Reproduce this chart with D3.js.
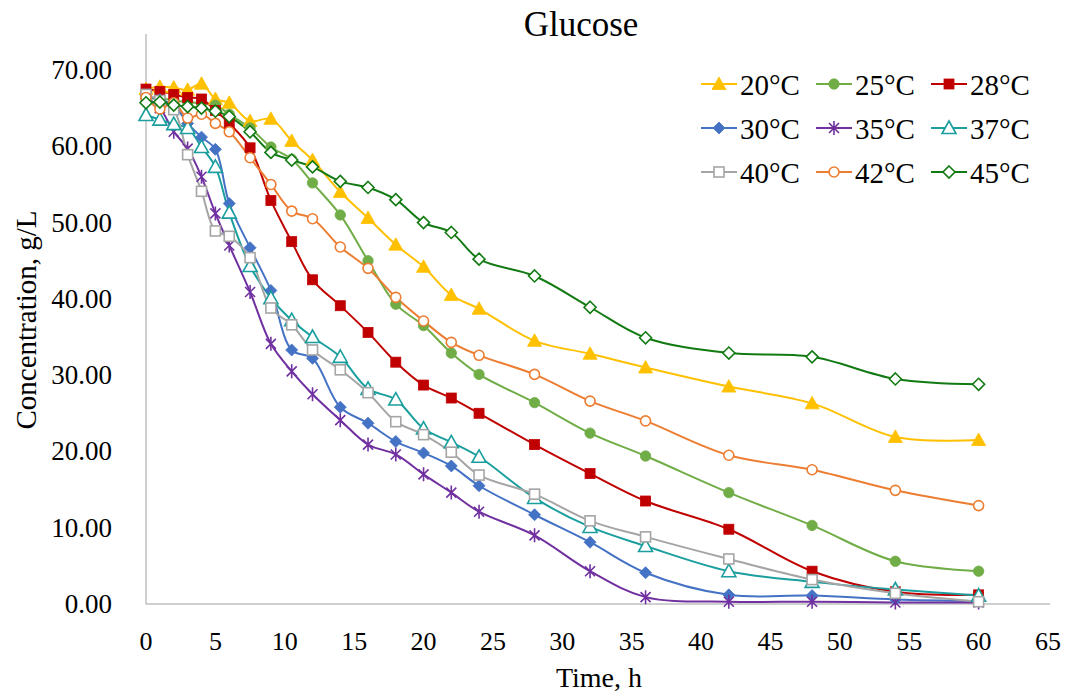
<!DOCTYPE html>
<html>
<head>
<meta charset="utf-8">
<script src="https://cdn.jsdelivr.net/npm/d3@7"></script>
<style>
  body { margin: 0; background: #fff; }
</style>
</head>
<body>
<div id="chart"></div>
<script>
// ========= DATA =========
const TIMES = [0,1,2,3,4,5,6,7.5,9,10.5,12,14,16,18,20,22,24,28,32,36,42,48,54,60];

const T20 = [67.5,67.8,67.7,67.4,68.2,66.2,65.7,63.3,63.6,60.7,58.2,54.0,50.6,47.1,44.2,40.5,38.7,34.5,32.8,31.0,28.5,26.3,21.9,21.5];
const T25 = [66.2,66.3,66.0,65.8,65.6,65.4,64.2,62.4,59.9,58.3,55.2,51.0,45.0,39.3,36.5,32.9,30.1,26.4,22.4,19.4,14.6,10.3,5.6,4.3];
const T28 = [67.5,67.2,66.8,66.4,66.2,64.7,63.0,59.8,52.9,47.5,42.5,39.1,35.6,31.7,28.7,27.0,25.0,20.9,17.1,13.5,9.8,4.3,1.6,1.2];
const T30 = [66.6,66.1,65.4,63.0,61.2,59.6,52.5,46.7,41.1,33.3,32.2,25.8,23.7,21.3,19.8,18.1,15.5,11.7,8.1,4.1,1.2,1.1,0.6,0.4];
const T35 = [66.4,65.0,61.9,59.7,56.0,51.2,47.0,40.9,34.1,30.5,27.5,24.1,20.9,19.6,17.0,14.6,12.1,9.0,4.3,0.9,0.3,0.3,0.2,0.2];
const T37 = [64.1,63.5,62.9,62.4,59.9,57.3,51.3,44.3,40.1,37.2,35.0,32.4,28.2,26.8,23.0,21.2,19.3,13.9,10.1,7.6,4.3,2.9,1.9,1.1];
const T40 = [66.8,66.0,64.8,58.9,54.1,48.9,48.2,45.4,38.8,36.6,33.3,30.7,27.7,23.9,22.2,19.9,16.9,14.4,10.9,8.8,5.9,3.2,1.4,0.3];
const T42 = [66.4,64.9,65.7,63.7,64.2,63.0,61.9,58.5,55.0,51.5,50.5,46.8,44.0,40.2,37.1,34.3,32.6,30.1,26.6,24.0,19.5,17.6,14.9,12.9];
const T45 = [65.7,65.8,65.4,65.2,65.0,64.6,63.9,61.9,59.2,58.2,57.3,55.4,54.6,53.0,50.0,48.7,45.2,43.0,38.9,34.9,32.9,32.4,29.5,28.8];

const SERIES_NAMES = ["20°C","25°C","28°C","30°C","35°C","37°C","40°C","42°C","45°C"];
const SERIES_VALUES = [T20,T25,T28,T30,T35,T37,T40,T42,T45];
const COLORS = ["#FFC000","#70AD47","#C00000","#4472C4","#7030A0","#1A9E9E","#A5A5A5","#ED7D31","#127A12"];
const MARKERS = ["triFill","circleFill","squareFill","diamondFill","star","triOpen","squareOpen","circleOpen","diamondOpen"];

const X_TICKS = d3.range(0, 66, 5);
const Y_TICKS = d3.range(0, 71, 10);

const FONT = '"Liberation Serif", "Times New Roman", serif';

// ========= LAYOUT =========
const W = 1071, H = 697;
const x = d3.scaleLinear().domain([0, 65]).range([146, 1048]);
const y = d3.scaleLinear().domain([0, 70]).range([604, 70]);

const svg = d3.select("#chart").append("svg").attr("width", W).attr("height", H);

function txt(sel) {
  return sel.append("text").style("font-family", FONT).attr("fill", "#000");
}

// axes lines
svg.append("line").attr("x1", 146).attr("x2", 146).attr("y1", 34).attr("y2", 604)
  .attr("stroke", "#BFBFBF").attr("stroke-width", 1.5);
svg.append("line").attr("x1", 146).attr("x2", 1050).attr("y1", 604).attr("y2", 604)
  .attr("stroke", "#BFBFBF").attr("stroke-width", 1.5);

// tick labels
const gx = svg.append("g");
X_TICKS.forEach(d => {
  txt(gx).attr("x", x(d)).attr("y", 650)
    .attr("text-anchor", "middle").attr("font-size", 26).text(d);
});
const gy = svg.append("g");
Y_TICKS.forEach(d => {
  txt(gy).attr("x", 112).attr("y", y(d) + 9)
    .attr("text-anchor", "end").attr("font-size", 27).text(d.toFixed(2));
});

// titles
txt(svg).attr("x", 581).attr("y", 36).attr("text-anchor", "middle")
  .attr("font-size", 35).text("Glucose");
txt(svg).attr("x", 599).attr("y", 687).attr("text-anchor", "middle")
  .attr("font-size", 28).text("Time, h");
txt(svg).attr("transform", "translate(36,320) rotate(-90)")
  .attr("text-anchor", "middle").attr("font-size", 29).text("Concentration, g/L");

// ========= MARKERS =========
function drawMarker(g, type, color) {
  if (type === "triFill" || type === "triOpen") {
    g.append("path").attr("d", "M0,-7L7,5.5L-7,5.5Z")
      .attr("fill", type === "triFill" ? color : "#fff")
      .attr("stroke", color).attr("stroke-width", type === "triFill" ? 0.8 : 1.6);
  } else if (type === "circleFill" || type === "circleOpen") {
    g.append("circle").attr("r", type === "circleFill" ? 5.2 : 5)
      .attr("fill", type === "circleFill" ? color : "#fff")
      .attr("stroke", color).attr("stroke-width", type === "circleFill" ? 0.8 : 1.6);
  } else if (type === "squareFill" || type === "squareOpen") {
    g.append("rect").attr("x", -5).attr("y", -5).attr("width", 10).attr("height", 10)
      .attr("fill", type === "squareFill" ? color : "#fff")
      .attr("stroke", color).attr("stroke-width", type === "squareFill" ? 0.8 : 1.6);
  } else if (type === "diamondFill" || type === "diamondOpen") {
    g.append("path").attr("d", "M0,-6L6,0L0,6L-6,0Z")
      .attr("fill", type === "diamondFill" ? color : "#fff")
      .attr("stroke", color).attr("stroke-width", type === "diamondFill" ? 0.8 : 1.6);
  } else if (type === "star") {
    g.append("path").attr("d", "M-5,-5L5,5M-5,5L5,-5M0,-7L0,7")
      .attr("stroke", color).attr("stroke-width", 1.6).attr("fill", "none");
  }
}

// ========= SERIES =========
const line = d3.line()
  .x((d, i) => x(TIMES[i]))
  .y(d => y(d))
  .curve(d3.curveCatmullRom.alpha(0.5));

const plot = svg.append("g");
SERIES_VALUES.forEach((vals, si) => {
  plot.append("path").datum(vals)
    .attr("d", line).attr("fill", "none")
    .attr("stroke", COLORS[si]).attr("stroke-width", 2);
});
SERIES_VALUES.forEach((vals, si) => {
  vals.forEach((v, i) => {
    const g = plot.append("g").attr("transform", `translate(${x(TIMES[i])},${y(v)})`);
    drawMarker(g, MARKERS[si], COLORS[si]);
  });
});

// ========= LEGEND =========
const legX = [701, 816, 931];
const legY = [84, 128, 172];
SERIES_NAMES.forEach((name, i) => {
  const lx = legX[i % 3], ly = legY[Math.floor(i / 3)];
  const g = svg.append("g").attr("transform", `translate(${lx},${ly})`);
  g.append("line").attr("x1", 0).attr("x2", 36).attr("y1", 0).attr("y2", 0)
    .attr("stroke", COLORS[i]).attr("stroke-width", 2);
  drawMarker(g.append("g").attr("transform", "translate(18,0)"), MARKERS[i], COLORS[i]);
  txt(g).attr("x", 39).attr("y", 11).attr("font-size", 29).text(name);
});
</script>
</body>
</html>
